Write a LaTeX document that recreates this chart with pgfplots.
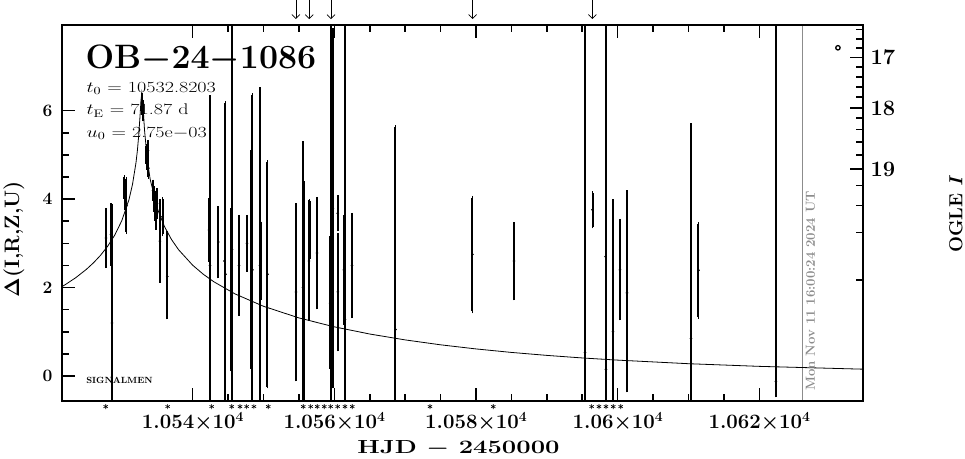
\RequirePackage{fix-cm}
\documentclass[border=0pt]{standalone}
\usepackage{pgfplots}
\pgfplotsset{compat=1.18}
\usetikzlibrary{arrows.meta}
\newcommand{\xl}[1]{{\bfseries #1{\boldmath$\times$}10\raisebox{0.75ex}{\fontsize{14}{14}\selectfont 4}}}
\begin{document}
\begin{tikzpicture}
\pgfplotsset{
 base/.style={
  scale only axis, width=801bp, height=376bp,
  xmin=10521.55, xmax=10634.64, ymin=-0.564, ymax=7.935,
  axis line style={line width=2bp},
  tick style={line width=1.6bp, black},
  major tick length=13bp, minor tick length=7bp,
  tick align=inside,
  scaled x ticks=false,
 }
}
\begin{axis}[base,
  xtick={10540,10560,10580,10600,10620},
  xticklabels={{\xl{1.054}},{\xl{1.056}},{\xl{1.058}},{\xl{1.06}},{\xl{1.062}}},
  minor x tick num=3,
  xtick pos=both, xticklabel pos=lower,
  xticklabel style={font=\fontsize{20.5}{20.5}\selectfont\bfseries, yshift=-8bp},
  ytick={0,2,4,6}, yticklabels={{\bfseries 0},{\bfseries 2},{\bfseries 4},{\bfseries 6}},
  minor y tick num=3, ytick pos=left,
  yticklabel style={font=\fontsize{17.5}{17.5}\selectfont\bfseries, xshift=-6bp},
  xlabel={HJD {\boldmath$-$} 2450000},
  xlabel style={at={(axis description cs:0.495,-0.126)}, anchor=center, xscale=1.35, font=\fontsize{19}{19}\selectfont\bfseries},
  ylabel={{\boldmath$\Delta$}(I,R,Z,U)},
  ylabel style={at={(axis description cs:-0.06,0.43)}, anchor=center, font=\fontsize{21}{21}\selectfont\bfseries},
]
\addplot[black!45, line width=1bp, forget plot] coordinates {(10626.07,-1) (10626.07,9)};
\addplot[black, line width=0.8bp, no marks] coordinates {
(10521.5,2.017) (10522,2.065) (10523.5,2.224) (10525,2.413) (10526,2.560) (10527,2.731)
(10528,2.935) (10529,3.186) (10530,3.514) (10531,3.985) (10531.5,4.328) (10532,4.826)
(10532.2,5.107) (10532.4,5.474) (10532.6,5.962) (10532.7,6.229) (10532.82,6.402)
(10532.95,6.207) (10533.2,5.562) (10533.6,4.878) (10534,4.447) (10535,3.791)
(10536,3.384) (10537,3.089) (10538,2.857) (10540,2.505) (10541.5,2.301) (10543,2.130)
(10546,1.855) (10550,1.577) (10555,1.314) (10560,1.112) (10565,0.950) (10570,0.817)
(10575,0.706) (10580,0.613) (10585,0.534) (10590,0.467) (10595,0.409) (10600,0.360)
(10610,0.279) (10620,0.219) (10634.7,0.155)};
\addplot[black, only marks, mark=*, mark size=1.1bp,
  error bars/.cd, y dir=both, y explicit,
  error bar style={line width=2bp, black},
  error mark options={line width=1.8bp, mark size=1.8bp, black}]
 table[x=x, y=y, y error plus=ep, y error minus=em] {
x y ep em
10527.76 3.12 0.64 0.64
10528.47 3.20 0.67 0.67
10528.60 1.20 2.65 2.65
10530.37 4.25 0.25 0.25
10530.51 4.05 0.30 0.30
10530.65 3.85 0.60 0.60
10532.84 6.15 0.20 0.20
10532.98 6.00 0.20 0.20
10533.48 5.00 0.20 0.20
10533.62 4.85 0.20 0.20
10533.69 5.10 0.20 0.20
10533.76 4.70 0.20 0.20
10534.40 4.20 0.20 0.20
10534.54 4.00 0.25 0.25
10534.68 3.85 0.30 0.30
10534.82 3.70 0.35 0.35
10534.96 3.90 0.30 0.30
10535.38 3.05 0.90 0.90
10535.74 3.60 0.40 0.40
10536.42 2.25 0.99 0.93
10542.44 2.50 3.81 3.80
10542.30 3.30 0.68 0.68
10543.61 3.03 0.77 0.78
10544.63 2.30 3.87 3.87
10544.50 2.60 1.16 1.16
10545.55 2.86 5.64 5.00
10545.45 1.95 1.81 1.80
10546.54 2.50 1.10 1.10
10547.67 3.00 0.60 0.60
10548.44 2.40 3.95 3.95
10548.30 2.63 2.48 2.48
10549.50 2.50 3.99 3.99
10549.60 2.60 0.85 0.85
10550.56 2.30 2.54 2.54
10554.58 1.90 1.97 1.98
10555.57 2.00 3.27 3.27
10555.65 1.90 2.50 2.50
10556.42 2.60 1.34 1.32
10556.50 3.30 0.65 0.65
10557.55 2.78 1.23 1.23
10559.46 1.00 8.00 5.00
10559.40 1.65 1.48 1.45
10559.80 3.79 4.03 4.03
10560.49 3.68 0.37 0.37
10560.50 1.90 1.29 1.30
10561.50 1.28 8.00 5.00
10561.35 2.40 1.20 1.20
10562.49 2.50 1.15 1.15
10568.63 1.05 4.58 4.58
10579.50 2.75 1.28 1.29
10585.36 2.60 0.84 0.85
10595.39 0.53 8.00 5.00
10596.45 3.76 0.38 0.38
10598.35 0.15 8.00 5.00
10598.30 2.70 0.90 0.90
10599.34 1.00 2.96 2.96
10600.33 2.40 1.11 1.10
10601.32 1.88 2.28 2.21
10610.36 0.85 4.82 4.82
10611.41 2.39 1.05 1.05
10622.35 -0.12 9.00 0.32
};
\end{axis}
\begin{axis}[base, clip=false,
  xtick=\empty, ytick pos=right, yticklabel pos=right,
  ytick={4.677,6.06,7.196}, yticklabels={{\bfseries 19},{\bfseries 18},{\bfseries 17}},
  minor ytick={7.829,7.620,7.409,6.980,6.761,6.537,6.308,5.827,5.570,5.297,5.003,4.305,3.852,3.241,2.168},
  yticklabel style={font=\fontsize{22}{22}\selectfont\bfseries, xshift=4bp},
]
\coordinate (SW) at (rel axis cs:0,0);
\coordinate (NE) at (rel axis cs:1,1);
\addplot[black, line width=0.7bp, -{Straight Barb[length=4bp,width=8bp]}] coordinates {(10554.58,8.50) (10554.58,8.07)};
\addplot[black, line width=0.7bp, -{Straight Barb[length=4bp,width=8bp]}] coordinates {(10556.46,8.50) (10556.46,8.07)};
\addplot[black, line width=0.7bp, -{Straight Barb[length=4bp,width=8bp]}] coordinates {(10559.53,8.50) (10559.53,8.07)};
\addplot[black, line width=0.7bp, -{Straight Barb[length=4bp,width=8bp]}] coordinates {(10579.53,8.50) (10579.53,8.07)};
\addplot[black, line width=0.7bp, -{Straight Barb[length=4bp,width=8bp]}] coordinates {(10596.42,8.50) (10596.42,8.07)};
\addplot[black, only marks, mark=asterisk, mark size=2.5bp, mark options={line width=0.6bp}] coordinates {
(10527.72,-0.69) (10536.47,-0.69) (10542.68,-0.69) (10545.51,-0.69) (10546.68,-0.69)
(10547.62,-0.69) (10548.65,-0.69) (10550.67,-0.69) (10555.61,-0.69) (10556.66,-0.69)
(10557.59,-0.69) (10558.58,-0.69) (10559.48,-0.69) (10560.47,-0.69) (10561.50,-0.69)
(10562.53,-0.69) (10573.50,-0.69) (10582.44,-0.69) (10596.33,-0.69) (10597.36,-0.69)
(10598.35,-0.69) (10599.38,-0.69) (10600.43,-0.69)};
\addplot[black, only marks, mark=o, mark size=2.2bp, mark options={line width=1.3bp}] coordinates {(10631.1,7.42)};
\node[anchor=base west, font=\fontsize{34}{34}\selectfont\bfseries] at (axis description cs:0.025,0.8856) {OB{\boldmath$-$}24{\boldmath$-$}1086};
\node[anchor=base west, xscale=1.3, font=\fontsize{15.5}{15.5}\selectfont] at (axis description cs:0.025,0.820) {$t_0$ = 10532.8203};
\node[anchor=base west, xscale=1.3, font=\fontsize{15.5}{15.5}\selectfont] at (axis description cs:0.025,0.761) {$t_{\rm E}$ = 71.87 d};
\node[anchor=base west, xscale=1.3, font=\fontsize{15.5}{15.5}\selectfont] at (axis description cs:0.025,0.701) {$u_0$ = 2.75e$-$03};
\node[anchor=base west, font=\fontsize{9}{9}\selectfont\bfseries] at (axis description cs:0.026,0.047) {SIGNALMEN};
\node[rotate=90, anchor=base west, text=black!45, font=\fontsize{13.2}{13.2}\selectfont\bfseries] at (axis cs:10627.86,-0.41) {Mon Nov 11 16:00:24 2024 UT};
\node[rotate=90, anchor=center, font=\fontsize{19}{19}\selectfont\bfseries] at (axis description cs:1.116,0.497) {OGLE \textit{I}};
\end{axis}
\pgfresetboundingbox
\path ([shift={(-62bp,-58bp)}]SW) rectangle ([shift={(102bp,25bp)}]NE);
\end{tikzpicture}
\end{document}
